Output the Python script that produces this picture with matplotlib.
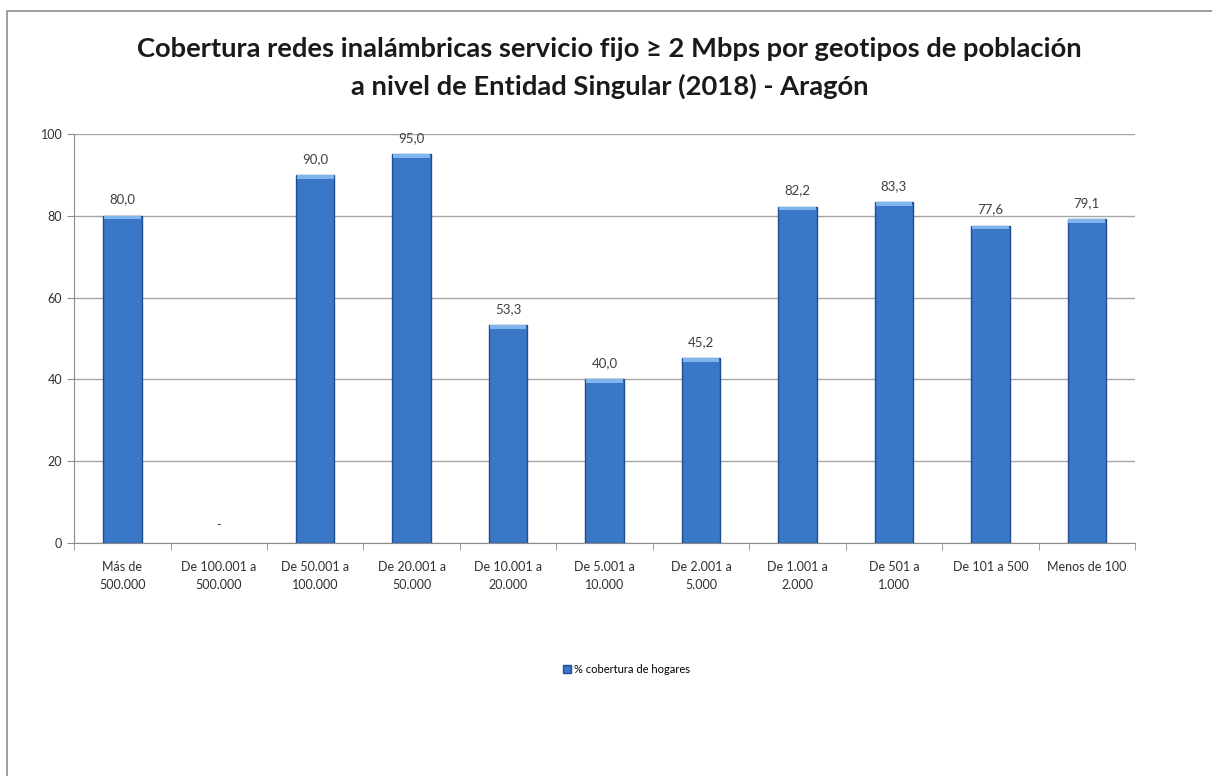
"""
Cobertura redes inalámbricas por geotipos - Aragón
"""

import numpy as np
import matplotlib.pyplot as plt
from matplotlib.patches import Rectangle

categorias = ['Más de\n500.000', 'De 100.001 a\n500.000', 'De 50.001 a\n100.000',
              'De 20.001 a\n50.000', 'De 10.001 a\n20.000', 'De 5.001 a\n10.000',
              'De 2.001 a\n5.000', 'De 1.001 a\n2.000', 'De 501 a\n1.000',
              'De 101 a 500', 'Menos de 100']
cobertura = [80.0, np.nan, 90.0, 95.0, 53.3, 40.0, 45.2, 82.2, 83.3, 77.6, 79.1]
serie = '% cobertura de hogares'
titulo = ('Cobertura redes inalámbricas servicio fijo ≥ 2 Mbps por geotipos de población\n'
          'a nivel de Entidad Singular (2018) - Aragón')

plt.rcParams['font.family'] = ['Lato', 'DejaVu Sans']

fig = plt.figure(figsize=(12.12, 7.76), dpi=100)
ax = fig.add_axes([0.0611, 0.3003, 0.8754, 0.527])

x = np.arange(len(categorias))
valores = np.array(cobertura)
hay = ~np.isnan(valores)

# Barras principales
ax.bar(x[hay], valores[hay], width=0.40, color='#3a77c7', edgecolor='#1f4e90',
       linewidth=1.0, label=serie, zorder=3)
# Tapa clara superior
cap = 0.9
ax.bar(x[hay], cap, bottom=valores[hay] - cap, width=0.38,
       color='#7fb4ec', linewidth=0, zorder=4)

for xi, v in zip(x, cobertura):
    if np.isnan(v):
        ax.text(xi, 3, '-', ha='center', va='bottom', fontsize=9, color='#404040')
    else:
        ax.text(xi, v + 2.5, f'{v:.1f}'.replace('.', ','), ha='center',
                va='bottom', fontsize=9.5, color='#404040')

ax.set_xlim(-0.5, len(categorias) - 0.5)
ax.set_ylim(0, 100)
ax.set_yticks([0, 20, 40, 60, 80, 100])
ax.yaxis.grid(True, color='#a6a6a6', linewidth=1.0, zorder=0)
ax.set_axisbelow(True)

ax.set_xticks(x)
ax.set_xticklabels(categorias, fontsize=9, color='#303030', linespacing=1.6)
ax.set_xticks(np.arange(-0.5, len(categorias)), minor=True)
ax.tick_params(axis='x', which='major', length=0, pad=13)
ax.tick_params(axis='x', which='minor', length=5, color='#8c8c8c')
ax.tick_params(axis='y', labelsize=9, colors='#303030', length=5, color='#8c8c8c')

for lado in ['top', 'right']:
    ax.spines[lado].set_visible(False)
ax.spines['left'].set_color('#8c8c8c')
ax.spines['bottom'].set_color('#8c8c8c')

fig.text(0.503, 0.913, titulo, ha='center', va='center', fontsize=19.7,
         fontweight='bold', color='#1a1a1a', linespacing=1.6)

fig.legend(loc='center', bbox_to_anchor=(0.517, 0.137), frameon=False,
           fontsize=8, handlelength=0.7, handleheight=0.7, handletextpad=0.3)

# Marco del gráfico
fig.add_artist(Rectangle((7 / 1212, -0.05), 1.1, 0.05 + 1 - 11 / 776,
                         transform=fig.transFigure, fill=False,
                         edgecolor='#8c8c8c', linewidth=1.2))

fig.savefig('out.png', dpi=100)
